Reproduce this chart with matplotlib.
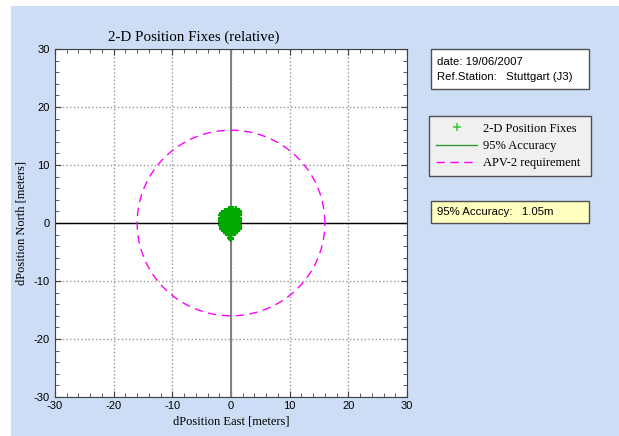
import numpy as np
import matplotlib
matplotlib.use("Agg")
import matplotlib.pyplot as plt
from matplotlib.patches import Rectangle

plt.rcParams["axes.unicode_minus"] = False

# position fixes relative to reference (meters)
fix_east = [
    -0.4, 0.0, 0.4, 0.8,
    -1.0, -0.6, -0.2, 0.2, 0.6, 1.0, 1.3,
    -1.5, -1.2, -0.8, -0.4, 0.0, 0.4, 0.8, 1.2, 1.4,
    -1.75, -1.4, -1.0, -0.6, -0.2, 0.2, 0.6, 1.0, 1.4,
    -1.75, -1.6, -1.2, -0.8, -0.4, 0.0, 0.4, 0.8, 1.2, 1.4,
    -1.75, -1.4, -1.0, -0.6, -0.2, 0.2, 0.6, 1.0, 1.4,
    -1.75, -1.6, -1.2, -0.8, -0.4, 0.0, 0.4, 0.8, 1.2, 1.4,
    -1.7, -1.4, -1.0, -0.6, -0.2, 0.2, 0.6, 1.0, 1.4,
    -1.6, -1.2, -0.8, -0.4, 0.0, 0.4, 0.8, 1.2, 1.4,
    -1.45, -1.0, -0.6, -0.2, 0.2, 0.6, 1.0, 1.35,
    -1.2, -0.8, -0.4, 0.0, 0.4, 0.8, 1.1,
    -0.9, -0.5, -0.1, 0.3, 0.7,
    -0.4, -0.1,
    -0.2, 0.0,
    -0.05,
]
fix_north = [
    2.45, 2.45, 2.45, 2.45,
    2.1, 2.1, 2.1, 2.1, 2.1, 2.1, 2.1,
    1.7, 1.7, 1.7, 1.7, 1.7, 1.7, 1.7, 1.7, 1.7,
    1.3, 1.3, 1.3, 1.3, 1.3, 1.3, 1.3, 1.3, 1.3,
    0.9, 0.9, 0.9, 0.9, 0.9, 0.9, 0.9, 0.9, 0.9, 0.9,
    0.5, 0.5, 0.5, 0.5, 0.5, 0.5, 0.5, 0.5, 0.5,
    0.1, 0.1, 0.1, 0.1, 0.1, 0.1, 0.1, 0.1, 0.1, 0.1,
    -0.3, -0.3, -0.3, -0.3, -0.3, -0.3, -0.3, -0.3, -0.3,
    -0.7, -0.7, -0.7, -0.7, -0.7, -0.7, -0.7, -0.7, -0.7,
    -1.1, -1.1, -1.1, -1.1, -1.1, -1.1, -1.1, -1.1,
    -1.45, -1.45, -1.45, -1.45, -1.45, -1.45, -1.45,
    -1.65, -1.65, -1.65, -1.65, -1.65,
    -2.1, -2.1,
    -2.5, -2.5,
    -2.7,
]

acc95 = 1.05        # 95% accuracy radius [m]
apv2_radius = 16.0  # APV-2 requirement [m]
date_str = "19/06/2007"
ref_station = "Stuttgart (J3)"

W, H = 619, 436
fig = plt.figure(figsize=(W / 100, H / 100), dpi=100)
fig.patch.set_facecolor("white")
bg = "#CCDDF5"
fig.patches.append(Rectangle((11 / W, 0), 1, 1 - 6 / H, transform=fig.transFigure,
                             facecolor=bg, edgecolor="none", zorder=-10))

ax = fig.add_axes([55 / W, 1 - 397 / H, 352 / W, 348 / H])
ax.set_facecolor("white")

theta = np.linspace(0, 2 * np.pi, 400)
h_fix, = ax.plot(fix_east, fix_north, linestyle="none", marker="+", ms=5,
                 mew=1.6, color="#00A800", zorder=4, label="2-D Position Fixes")
h_acc, = ax.plot(acc95 * np.cos(theta), acc95 * np.sin(theta), color="#339933",
                 lw=1, zorder=3, label="95% Accuracy")
h_apv, = ax.plot(apv2_radius * np.cos(theta), apv2_radius * np.sin(theta),
                 color="#FF00FF", lw=1, dashes=(6, 4), zorder=3,
                 label="APV-2 requirement")

ax.axhline(0, color="black", lw=1, zorder=2)
ax.axvline(0, color="#808080", lw=1.4, zorder=2)

ax.set_xlim(-30, 30)
ax.set_ylim(-30, 30)
ax.set_xticks(np.arange(-30, 31, 10))
ax.set_yticks(np.arange(-30, 31, 10))
ax.set_xticks(np.arange(-30, 31, 2), minor=True)
ax.set_yticks(np.arange(-30, 31, 2), minor=True)
ax.grid(which="major", linestyle=":", color="#999999", lw=1)
ax.tick_params(which="both", direction="in", top=True, right=True,
               color="#404040", labelsize=8)
ax.tick_params(which="major", length=4)
ax.tick_params(which="minor", length=3)
ax.tick_params(axis="x", which="major", pad=3)
ax.tick_params(axis="y", which="major", pad=4)
for lab in ax.get_xticklabels() + ax.get_yticklabels():
    lab.set_fontfamily("Liberation Sans")
for s in ax.spines.values():
    s.set_color("#404040")

serif = "Liberation Serif"
ax.set_title("2-D Position Fixes (relative)", fontfamily=serif, fontsize=10.8,
             pad=6, x=(194 - 55) / 352)
ax.set_xlabel("dPosition East [meters]", fontfamily=serif, fontsize=9, labelpad=3)
ax.set_ylabel("dPosition North [meters]", fontfamily=serif, fontsize=9, labelpad=4)

# info box
fig.patches.append(Rectangle((431 / W, 1 - 89 / H), 158 / W, 40 / H,
                             transform=fig.transFigure, facecolor="white",
                             edgecolor="#505050", lw=1))
fig.text(437 / W, 1 - 62 / H, "date: " + date_str, fontfamily="Liberation Sans",
         fontsize=8.2, va="center")
fig.text(437 / W, 1 - 77 / H, "Ref.Station:   " + ref_station,
         fontfamily="Liberation Sans", fontsize=8.2, va="center")

leg = ax.legend(handles=[h_fix, h_acc, h_apv], loc="upper left",
                bbox_to_anchor=(429 / W, 1 - 174 / H, 162 / W, 58 / H),
                bbox_transform=fig.transFigure, mode="expand",
                borderaxespad=0, fancybox=False, framealpha=1,
                facecolor="#F0F0F0", edgecolor="#505050",
                prop={"family": serif, "size": 9}, handlelength=3.3,
                handletextpad=0.5, labelspacing=0.42, borderpad=0.55)
leg.get_frame().set_linewidth(1)
leg.legend_handles[0].set_color("#33CC33")
leg.legend_handles[0].set_markeredgewidth(1.1)
leg.legend_handles[0].set_markersize(6)

# accuracy box
fig.patches.append(Rectangle((431 / W, 1 - 223 / H), 158 / W, 22 / H,
                             transform=fig.transFigure, facecolor="#FFFFC0",
                             edgecolor="#505050", lw=1))
fig.text(437 / W, 1 - 212 / H, "95%% Accuracy:   %.2fm" % acc95,
         fontfamily="Liberation Sans", fontsize=8.2, va="center")

fig.savefig("out.png", dpi=100, facecolor=fig.get_facecolor())
